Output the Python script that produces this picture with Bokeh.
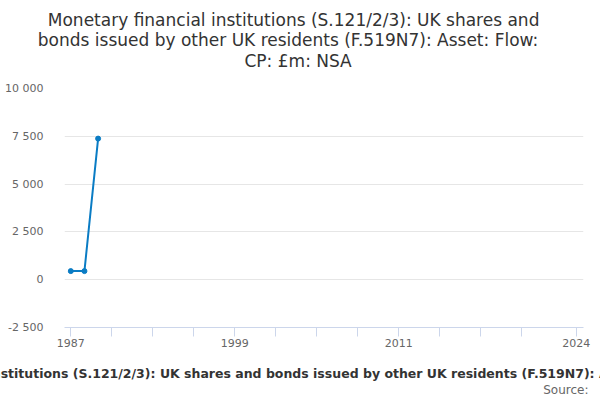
from bokeh.plotting import figure
from bokeh.models import FixedTicker, Range1d, Title
from bokeh.embed import file_html
from bokeh.resources import INLINE

# ---- data ----
title_lines = [
    "Monetary financial institutions (S.121/2/3): UK shares and",
    "bonds issued by other UK residents (F.519N7): Asset: Flow:",
    "CP: £m: NSA",
]
x_axis_title = ("Monetary financial institutions (S.121/2/3): UK shares and bonds issued "
                "by other UK residents (F.519N7): Asset: Flow: CP: £m: NSA")
source_text = "Source:"
years = [1987, 1988, 1989]
values = [450, 450, 7380]
y_ticks = [-2500, 0, 2500, 5000, 7500, 10000]
y_tick_labels = ["-2 500", "0", "2 500", "5 000", "7 500", "10 000"]
x_ticks = [1987, 1990, 1993, 1996, 1999, 2002, 2005, 2008, 2011, 2014, 2017, 2020, 2024]
x_labelled = [1987, 1999, 2011, 2024]

FONT = "DejaVu Sans"
LINE = "#0a7cc4"
FRAME_LEFT = 64

p = figure(width=600, height=400, output_backend="svg", toolbar_location=None,
           x_range=Range1d(1986.54, 2024.53), y_range=Range1d(-2500, 10000),
           min_border_left=FRAME_LEFT, min_border_right=17, min_border_top=88, min_border_bottom=73)
p.outline_line_color = None
p.background_fill_color = "white"
p.border_fill_color = "white"

p.line(years, values, line_color=LINE, line_width=2)
p.scatter(years, values, size=5, fill_color=LINE, line_color=LINE)

# y axis
ya = p.yaxis[0]
ya.ticker = FixedTicker(ticks=y_ticks)
ya.major_label_overrides = {t: l for t, l in zip(y_ticks, y_tick_labels)}
ya.axis_line_color = None
ya.major_tick_line_color = None
ya.minor_tick_line_color = None
ya.major_label_standoff = 15
ya.major_label_text_font = FONT
ya.major_label_text_font_size = "11px"
ya.major_label_text_color = "#666666"

p.ygrid[0].ticker = FixedTicker(ticks=y_ticks)
p.ygrid[0].grid_line_color = "#e6e6e6"
p.xgrid[0].grid_line_color = None

# x axis
xa = p.xaxis[0]
xa.ticker = FixedTicker(ticks=x_ticks)
xa.major_label_overrides = {t: (str(t) if t in x_labelled else "") for t in x_ticks}
xa.axis_line_color = "#ccd6eb"
xa.major_tick_line_color = "#ccd6eb"
xa.major_tick_out = 9
xa.major_tick_in = 0
xa.minor_tick_line_color = None
xa.major_label_standoff = 2
xa.major_label_text_font = FONT
xa.major_label_text_font_size = "11px"
xa.major_label_text_color = "#666666"

# title lines; panels stack outward from the frame, so the nearest is added first
p.add_layout(Title(text=" ", align="left", standoff=-4, text_font=FONT,
                   text_font_size="17px"), "above")
starts = [47.3, 37.3, 244]
standoffs = [0, -3, 0]
for txt, sx, so in reversed(list(zip(title_lines, starts, standoffs))):
    p.add_layout(Title(text=txt, align="left", offset=sx - FRAME_LEFT, standoff=so,
                       text_font=FONT, text_font_size="17px", text_font_style="normal",
                       text_color="#333333"), "above")

# spacer, x-axis title (bold, wider than the chart) and source line
p.add_layout(Title(text=" ", align="left", standoff=-2, text_font=FONT,
                   text_font_size="12px"), "below")
p.add_layout(Title(text=x_axis_title, align="left", offset=-212.8, standoff=0,
                   text_font=FONT, text_font_size="12.5px", text_font_style="bold",
                   text_color="#333333"), "below")
p.add_layout(Title(text=source_text, align="right", offset=-5, standoff=0,
                   text_font=FONT, text_font_size="12px", text_font_style="normal",
                   text_color="#666666"), "below")

open("out.html", "w").write(file_html(p, INLINE))
